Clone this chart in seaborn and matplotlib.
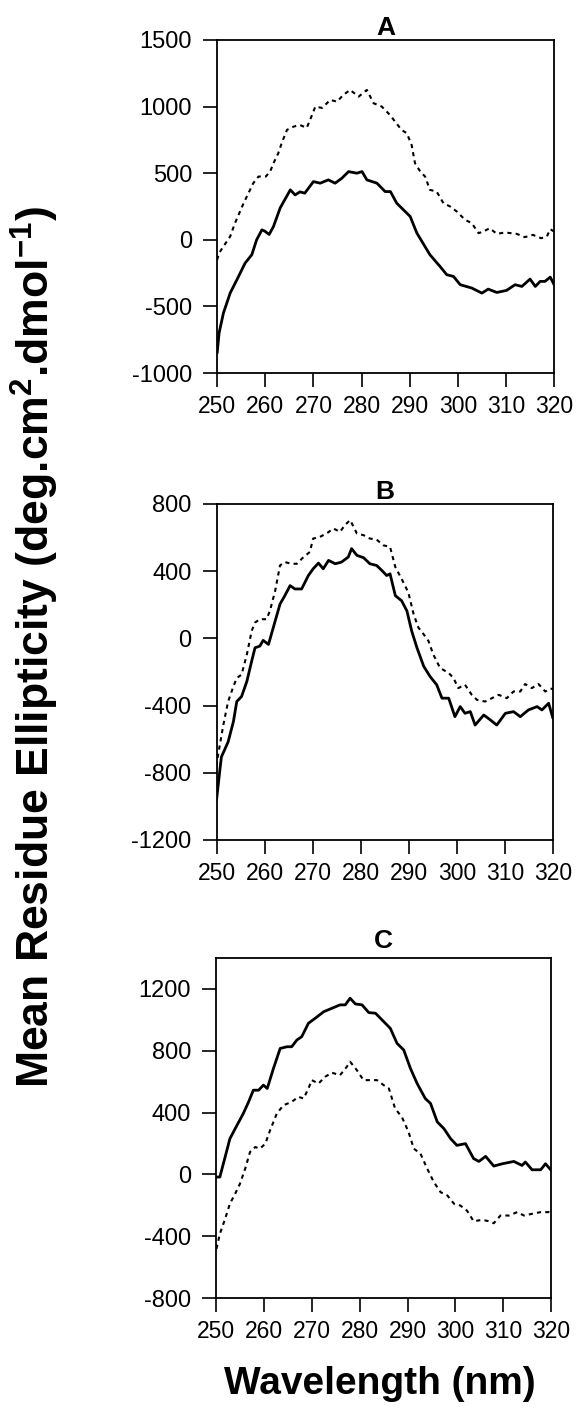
import matplotlib
matplotlib.use("Agg")
import matplotlib.pyplot as plt
import seaborn as sns
import pandas as pd

# ---------------- data ----------------
A_solid_wl = [250.0, 250.4, 251.3, 252.7, 254.1, 255.8, 257.2, 258.2, 259.3, 259.9,
              260.8, 261.7, 263.1, 265.2, 266.2, 267.2, 268.2, 270.0, 271.4, 273.1,
              274.5, 275.9, 277.3, 279.0, 280.1, 281.1, 283.2, 284.9, 286.0, 287.3,
              290.1, 291.5, 294.2, 296.3, 297.7, 299.1, 300.5, 302.9, 305.0, 306.3,
              308.1, 310.1, 311.9, 313.3, 315.0, 316.1, 317.1, 318.1, 319.2, 320.0]
A_solid_val = [-850, -700, -550, -400, -300, -175, -112, 0, 75, 65,
               40, 100, 240, 375, 337, 360, 350, 437, 425, 450,
               425, 462, 512, 500, 512, 450, 425, 362, 362, 275,
               175, 50, -112, -200, -262, -275, -337, -362, -400, -370,
               -395, -380, -337, -350, -295, -350, -312, -312, -280, -337]

A_dash_wl = [250.0, 250.4, 251.3, 252.7, 253.7, 255.5, 257.5, 258.6, 260.1, 261.0,
             261.7, 262.7, 263.4, 264.5, 265.9, 267.2, 268.6, 269.3, 270.4, 271.8,
             273.5, 274.9, 276.2, 277.6, 279.4, 281.1, 282.5, 284.2, 285.9, 288.3,
             289.4, 290.4, 291.1, 292.2, 293.2, 294.2, 295.6, 297.0, 298.4, 299.8,
             301.5, 302.9, 304.3, 305.3, 306.6, 308.1, 309.8, 312.2, 313.9, 315.6,
             317.3, 318.5, 319.2, 320.0]
A_dash_val = [-150, -100, -50, 25, 125, 275, 425, 475, 475, 512,
              575, 650, 725, 825, 850, 862, 840, 900, 1000, 990,
              1050, 1037, 1087, 1125, 1075, 1125, 1025, 1000, 937, 825,
              800, 712, 575, 512, 475, 375, 362, 275, 250, 212,
              150, 125, 50, 62, 87, 45, 55, 45, 20, 37,
              12, 25, 80, 62]

B_solid_wl = [250.0, 250.7, 251.0, 252.4, 253.5, 254.2, 255.2, 256.3, 257.3, 258.0,
              259.0, 259.7, 260.8, 261.8, 263.2, 264.2, 265.3, 266.3, 267.7, 269.1,
              270.1, 271.2, 272.2, 273.3, 274.7, 276.0, 277.4, 278.1, 279.2, 280.6,
              281.9, 283.3, 284.4, 285.4, 286.1, 287.2, 288.5, 289.6, 290.6, 291.7,
              293.1, 294.4, 295.8, 296.9, 298.3, 299.6, 300.7, 301.7, 302.8, 303.8,
              305.6, 307.0, 308.3, 310.1, 311.8, 313.2, 314.9, 316.7, 317.7, 319.1,
              320.0]
B_solid_val = [-960, -780, -706, -616, -496, -376, -346, -256, -136, -56,
               -46, -12, -36, 64, 204, 254, 314, 294, 294, 374,
               414, 448, 414, 464, 444, 454, 484, 534, 494, 480,
               444, 434, 404, 374, 384, 254, 224, 164, 44, -56,
               -166, -226, -276, -356, -356, -466, -406, -446, -436, -516,
               -456, -486, -516, -446, -436, -466, -426, -406, -426, -386,
               -476]

B_dash_wl = [250.0, 250.3, 251.4, 252.4, 253.5, 254.2, 255.2, 256.3, 257.3, 258.0,
             259.0, 260.4, 261.1, 262.2, 263.2, 264.2, 265.6, 266.7, 268.1, 269.4,
             270.1, 271.5, 272.9, 274.3, 275.7, 276.7, 277.8, 279.2, 280.6, 281.9,
             283.3, 284.7, 286.1, 287.2, 288.5, 289.9, 291.0, 292.0, 293.1, 294.1,
             295.1, 296.5, 298.3, 299.3, 300.3, 301.7, 303.1, 304.2, 305.9, 307.3,
             308.7, 310.4, 311.8, 313.2, 314.2, 315.6, 317.0, 318.4, 319.4, 320.0]
B_dash_val = [-760, -696, -516, -376, -286, -236, -216, -96, 44, 94,
              114, 114, 164, 284, 434, 454, 444, 444, 484, 514,
              594, 604, 624, 654, 634, 674, 704, 624, 614, 594,
              588, 554, 544, 424, 354, 274, 144, 64, 24, -16,
              -96, -176, -206, -236, -296, -276, -336, -366, -376, -356,
              -336, -356, -316, -316, -272, -296, -272, -316, -300, -300]

C_solid_wl = [250.0, 250.8, 251.9, 252.9, 254.0, 255.7, 256.8, 257.8, 258.9, 259.9,
              260.7, 262.0, 263.4, 264.8, 265.8, 266.9, 267.9, 269.3, 270.7, 272.5,
              274.2, 275.9, 277.0, 278.0, 279.1, 280.5, 281.9, 283.3, 284.7, 286.4,
              287.8, 289.2, 290.6, 292.0, 293.7, 294.8, 296.2, 297.6, 299.0, 300.3,
              302.1, 303.8, 304.9, 306.3, 308.0, 309.8, 312.2, 313.9, 314.6, 316.0,
              317.8, 318.8, 320.0]
C_solid_val = [-17, -17, 112, 231, 296, 394, 469, 545, 545, 578,
               556, 686, 815, 826, 826, 870, 891, 978, 1010, 1053,
               1075, 1097, 1097, 1140, 1103, 1097, 1047, 1043, 999, 945,
               848, 805, 686, 588, 491, 459, 340, 296, 231, 188,
               199, 102, 84, 117, 54, 69, 84, 58, 80, 30,
               30, 69, 26]

C_dash_wl = [250.1, 250.8, 251.9, 252.9, 254.0, 255.0, 256.1, 257.1, 258.2, 259.2,
             260.3, 261.3, 262.7, 264.1, 265.8, 267.2, 268.3, 269.3, 270.0, 271.4,
             272.8, 274.2, 275.9, 277.3, 278.0, 279.4, 280.8, 282.2, 283.6, 285.0,
             286.1, 287.4, 288.8, 290.2, 291.3, 292.7, 294.1, 295.5, 296.9, 298.3,
             299.7, 301.0, 302.4, 303.8, 305.6, 307.0, 308.0, 309.4, 311.2, 312.9,
             314.3, 316.0, 317.8, 319.5, 320.0]
C_dash_val = [-482, -385, -288, -190, -125, -61, 37, 145, 177, 167,
              199, 286, 394, 448, 469, 502, 491, 556, 610, 588,
              632, 658, 642, 696, 729, 675, 610, 610, 610, 578,
              556, 426, 372, 275, 167, 134, 37, -50, -115, -136,
              -190, -201, -234, -303, -294, -303, -316, -266, -266, -244,
              -266, -255, -244, -244, -250]

panel_titles = ["A", "B", "C"]
x_ticks = [250, 260, 270, 280, 290, 300, 310, 320]
A_yticks = [-1000, -500, 0, 500, 1000, 1500]
B_yticks = [-1200, -800, -400, 0, 400, 800]
C_yticks = [-800, -400, 0, 400, 800, 1200]
ylims = [(-1000, 1500), (-1200, 800), (-800, 1400)]

xlabel_text = "Wavelength (nm)"
ylabel_text = r"Mean Residue Ellipticity (deg.cm$^{\mathbf{2}}$.dmol$^{\mathbf{-1}}$)"

# ---------------- style ----------------
sns.set_style("ticks")
plt.rcParams["font.family"] = ["Liberation Sans", "DejaVu Sans"]
plt.rcParams["mathtext.fontset"] = "custom"
plt.rcParams["mathtext.rm"] = "Liberation Sans"
plt.rcParams["mathtext.bf"] = "Liberation Sans:bold"
for key in ["text.color", "axes.labelcolor", "xtick.color", "ytick.color",
            "xtick.labelcolor", "ytick.labelcolor", "axes.edgecolor"]:
    plt.rcParams[key] = "black"

fig = plt.figure(figsize=(5.76, 14.12), dpi=100)

positions = [
    [0.377, 0.7358, 0.585, 0.2359],
    [0.376, 0.4051, 0.584, 0.2380],
    [0.375, 0.0807, 0.582, 0.2408],
]
yticks_all = [A_yticks, B_yticks, C_yticks]
solids = [(A_solid_wl, A_solid_val), (B_solid_wl, B_solid_val), (C_solid_wl, C_solid_val)]
dashes = [(A_dash_wl, A_dash_val), (B_dash_wl, B_dash_val), (C_dash_wl, C_dash_val)]
title_pads = [0, 3, 7]

for i in range(3):
    ax = fig.add_axes(positions[i])
    sw, sv = solids[i]
    dw, dv = dashes[i]
    df_s = pd.DataFrame({"wl": sw, "val": sv})
    df_d = pd.DataFrame({"wl": dw, "val": dv})
    sns.lineplot(data=df_d, x="wl", y="val", ax=ax, color="black", lw=1.5,
                 dashes=False, linestyle=(0, (2.0, 2.0)), sort=True)
    sns.lineplot(data=df_s, x="wl", y="val", ax=ax, color="black", lw=2.0, sort=True)
    ax.set_xlim(250, 320)
    ax.set_ylim(*ylims[i])
    ax.set_xticks(x_ticks)
    ax.set_yticks(yticks_all[i])
    ax.set_xticklabels([str(t) for t in x_ticks])
    ax.set_yticklabels([str(t) for t in yticks_all[i]])
    ax.tick_params(axis="x", direction="out", length=10, width=1.2, labelsize=16.5, pad=6, colors="black")
    ax.tick_params(axis="y", direction="out", length=10, width=1.2, labelsize=17, pad=8, colors="black")
    for sp in ax.spines.values():
        sp.set_visible(True)
        sp.set_linewidth(1.3)
        sp.set_color("black")
    ax.set_xlabel("")
    ax.set_ylabel("")
    ax.set_title(panel_titles[i], fontsize=19, fontweight="bold", pad=title_pads[i], color="black")

fig.text(380 / 576, 1 - 1384 / 1412, xlabel_text, ha="center", va="center",
         fontsize=28, fontweight="bold", color="black")
fig.text(35 / 576, 1 - 647 / 1412, ylabel_text, ha="center", va="center",
         rotation=90, fontsize=32, fontweight="bold", color="black")

fig.savefig("out.png", dpi=100, facecolor="white")
